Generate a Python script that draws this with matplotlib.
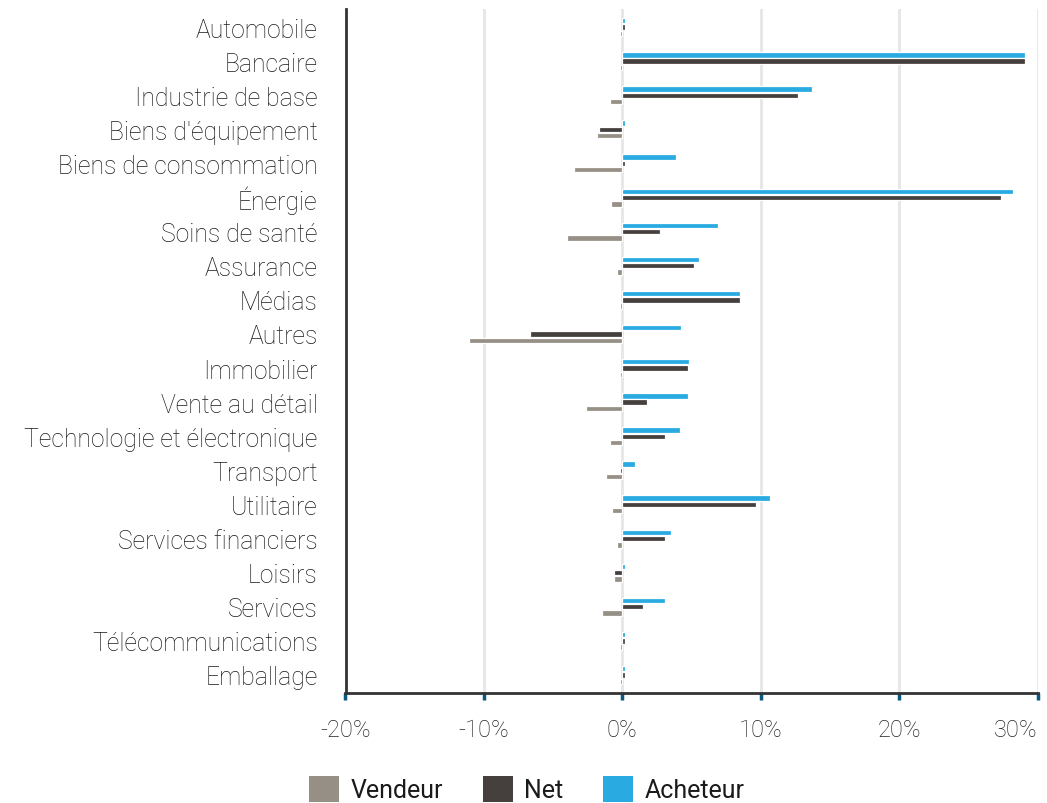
import numpy as np
import matplotlib.pyplot as plt
from matplotlib.patches import Patch

plt.rcParams['font.family'] = ['Roboto', 'DejaVu Sans']

# sectors, top to bottom
sectors = ["Automobile", "Bancaire", "Industrie de base", "Biens d'équipement",
           "Biens de consommation", "Énergie", "Soins de santé", "Assurance",
           "Médias", "Autres", "Immobilier", "Vente au détail",
           "Technologie et électronique", "Transport", "Utilitaire",
           "Services financiers", "Loisirs", "Services", "Télécommunications",
           "Emballage"]

# values in %
acheteur = [0.2, 29.1, 13.7, 0.2, 3.85, 28.2, 6.9, 5.55, 8.5, 4.25,
            4.85, 4.75, 4.15, 0.95, 10.65, 3.5, 0.2, 3.1, 0.2, 0.2]
net = [0.2, 29.1, 12.7, -1.65, 0.2, 27.35, 2.7, 5.15, 8.5, -6.7,
       4.75, 1.8, 3.1, -0.2, 9.65, 3.05, -0.6, 1.5, 0.2, 0.2]
vendeur = [-0.2, -0.2, -0.9, -1.8, -3.5, -0.8, -4.0, -0.35, -0.2, -11.1,
           -0.2, -2.6, -0.87, -1.2, -0.75, -0.35, -0.6, -1.45, -0.2, -0.2]

xticks = [-20, -10, 0, 10, 20, 30]

c_vend = '#968f85'
c_net = '#45403d'
c_ach = '#29abe2'

fig = plt.figure(figsize=(10.47, 8.04), dpi=100)
ax = fig.add_axes([345.5 / 1047, 1 - 694 / 804, (1037.5 - 345.5) / 1047, (694 - 10) / 804])

y = np.arange(len(sectors))
h = 0.16
off = 0.185
kw = dict(height=h, edgecolor='white', linewidth=0.9, zorder=3)
ax.barh(y - off, acheteur, color=c_ach, **kw)
ax.barh(y, net, color=c_net, **kw)
ax.barh(y + off, vendeur, color=c_vend, **kw)

ax.set_xlim(-20, 30)
ax.set_ylim(len(sectors) - 0.47, -0.53)
ax.set_xticks(xticks)
xl = ax.set_xticklabels([f'{t}%' for t in xticks], fontsize=17, color='#222222',
                        fontweight='light')
xl[-1].set_horizontalalignment('right')
ax.set_yticks(y)
ax.set_yticklabels(sectors, fontsize=17.8, color='#1a1a1a', fontweight='light')
ax.tick_params(axis='y', length=0, pad=20)
ax.tick_params(axis='x', length=5, width=2.5, color='#0a5a80', pad=13)

ax.grid(axis='x', color='#e6e6e6', linewidth=2, zorder=0)
ax.set_axisbelow(True)
for s in ['top', 'right']:
    ax.spines[s].set_visible(False)
ax.spines['left'].set_color('#333333')
ax.spines['left'].set_linewidth(2)
ax.spines['bottom'].set_color('#333333')
ax.spines['bottom'].set_linewidth(2)

handles = [Patch(facecolor=c_vend, label='Vendeur'),
           Patch(facecolor=c_net, label='Net'),
           Patch(facecolor=c_ach, label='Acheteur')]
leg = fig.legend(handles=handles, loc='center', bbox_to_anchor=(527 / 1047, 1 - 790 / 804),
                 ncol=3, frameon=False, handlelength=1.2, handleheight=1.2,
                 handletextpad=0.45, columnspacing=1.6,
                 prop={'size': 18, 'weight': 'normal'})
for t in leg.get_texts():
    t.set_color('#1a1a1a')

fig.savefig('out.png', dpi=100)
